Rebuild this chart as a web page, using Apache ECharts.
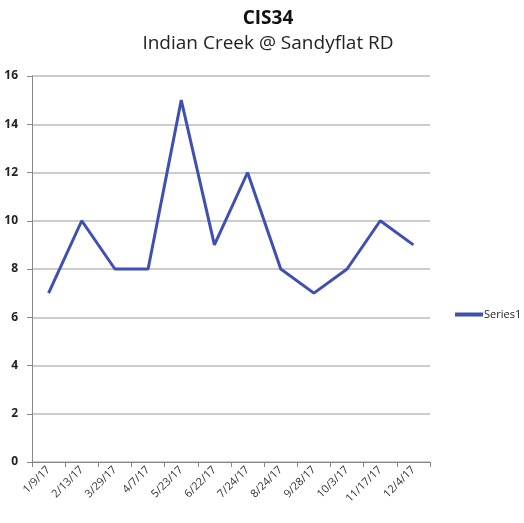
<!DOCTYPE html>
<html>
<head>
<meta charset="utf-8">
<script src="https://cdn.jsdelivr.net/npm/echarts@6/dist/echarts.min.js"></script>
<style>
  html, body { margin: 0; padding: 0; background: #fff; }
  #chart { width: 524px; height: 523px; }
</style>
</head>
<body>
<div id="chart"></div>
<script>
const dates = ['1/9/17', '2/13/17', '3/29/17', '4/7/17', '5/23/17', '6/22/17',
  '7/24/17', '8/24/17', '9/28/17', '10/3/17', '11/17/17', '12/4/17']
const series1 = [7, 10, 8, 8, 15, 9, 12, 8, 7, 8, 10, 9]

const fontFamily = '"Open Sans", "Liberation Sans", sans-serif'

const chart = echarts.init(document.getElementById('chart'))
chart.setOption({
  animation: false,
  textStyle: { fontFamily },
  title: [
    {
      text: 'CIS34',
      left: 263,
      textAlign: 'center',
      top: 4,
      textStyle: { fontSize: 19, fontWeight: 'bold', color: '#111', fontFamily },
    },
    {
      text: 'Indian Creek @ Sandyflat RD',
      left: 263,
      textAlign: 'center',
      top: 29,
      textStyle: { fontSize: 19, fontWeight: 'normal', color: '#222', fontFamily },
    },
  ],
  legend: {
    data: ['Series1'],
    left: 450,
    top: 304,
    orient: 'vertical',
    icon: 'rect',
    itemWidth: 28,
    itemHeight: 4,
    itemGap: 2,
    textStyle: { fontSize: 11, color: '#222', fontFamily, padding: [0, 0, 0, -4] },
  },
  grid: { left: 32, right: 94, top: 76, bottom: 61, containLabel: false },
  xAxis: {
    type: 'category',
    data: dates,
    boundaryGap: true,
    axisLine: { lineStyle: { color: '#888' } },
    axisTick: { show: true, alignWithLabel: false, lineStyle: { color: '#888' } },
    axisLabel: { rotate: 45, fontSize: 11, color: '#333', margin: 6, interval: 0 },
  },
  yAxis: {
    type: 'value',
    min: 0,
    max: 16,
    interval: 2,
    axisLine: { show: true, lineStyle: { color: '#888' } },
    axisTick: { show: true, lineStyle: { color: '#888' } },
    axisLabel: { fontSize: 12, color: '#222', fontWeight: 'bold', margin: 14 },
    splitLine: { lineStyle: { color: '#bbb', width: 1.5 } },
  },
  series: [
    {
      name: 'Series1',
      type: 'line',
      data: series1,
      symbol: 'none',
      lineStyle: { color: '#3f4fb3', width: 3 },
      itemStyle: { color: '#3f4fb3' },
    },
  ],
})
</script>
</body>
</html>
